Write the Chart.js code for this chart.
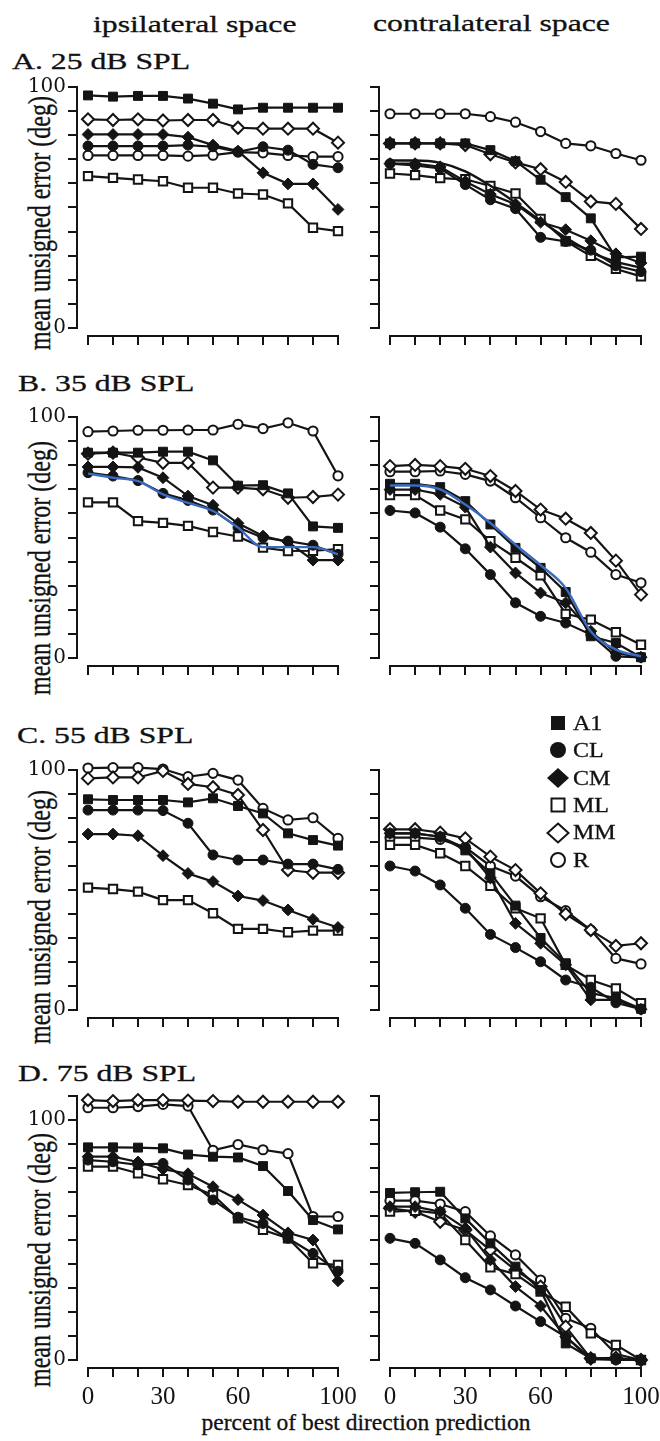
<!DOCTYPE html>
<html>
<head>
<meta charset="utf-8">
<script src="https://cdn.jsdelivr.net/npm/chart.js@4.4.1/dist/chart.umd.min.js"></script>
<style>
html,body{margin:0;padding:0;background:#fff;}
#page{position:relative;width:660px;height:1441px;overflow:hidden;background:#fff;}
#page canvas{position:absolute;left:0;}
.t{position:absolute;font-family:"Liberation Serif","Times New Roman",serif;color:#111;white-space:nowrap;line-height:1;transform-origin:0 0;-webkit-text-stroke:0.3px #111;}
.yt{position:absolute;font-family:"Liberation Serif","Times New Roman",serif;color:#111;white-space:nowrap;line-height:1;font-size:24px;-webkit-text-stroke:0.3px #111;transform:translate(-50%,-50%) rotate(-90deg) scaleY(1.3);}
.leg{position:absolute;}
</style>
</head>
<body>
<div id="page">
  <div class="t" style="left:92.5px;top:12.6px;font-size:23.5px;transform:scaleX(1.35)">ipsilateral space</div>
  <div class="t" style="left:372.5px;top:12.3px;font-size:23.5px;transform:scaleX(1.35)">contralateral space</div>
  <div class="t" style="left:11.5px;top:50.3px;font-size:23.5px;transform:scaleX(1.35)">A. 25 dB SPL</div>
  <div class="t" style="left:17.6px;top:372.2px;font-size:23.5px;transform:scaleX(1.35)">B. 35 dB SPL</div>
  <div class="t" style="left:17.2px;top:723.5px;font-size:23.5px;transform:scaleX(1.35)">C. 55 dB SPL</div>
  <div class="t" style="left:17.6px;top:1062.2px;font-size:23.5px;transform:scaleX(1.35)">D. 75 dB SPL</div>
  <div class="yt" style="left:39.5px;top:223px">mean unsigned error (deg)</div>
  <div class="yt" style="left:39.5px;top:568px">mean unsigned error (deg)</div>
  <div class="yt" style="left:39.5px;top:917px">mean unsigned error (deg)</div>
  <div class="yt" style="left:39.5px;top:1260px">mean unsigned error (deg)</div>
  <div class="t" style="left:366px;top:1411px;font-size:23.5px;transform:translateX(-50%)">percent of best direction prediction</div>
</div>
<script>
// ---------------- data ----------------
const percent = [0, 10, 20, 30, 40, 50, 60, 70, 80, 90, 100];
const xTickValues = [0, 10, 20, 30, 40, 50, 60, 70, 80, 90, 100];
const xTickLabels = [0, 30, 60, 100];
const yTickValues100 = [0, 10, 20, 30, 40, 50, 60, 70, 80, 90, 100];
const yTickValues110 = [0, 10, 20, 30, 40, 50, 60, 70, 80, 90, 100, 110];
const yTickLabels = [0, 100];
const seriesNames = ['A1', 'CL', 'CM', 'ML', 'MM', 'R'];

// A. 25 dB SPL
const ipsi25_A1 = [96.5, 96.0, 96.3, 96.3, 95.2, 93.1, 90.7, 91.4, 91.4, 91.4, 91.4];
const ipsi25_CL = [75.5, 75.5, 75.5, 75.5, 75.9, 75.2, 73.1, 75.2, 73.8, 67.9, 66.5];
const ipsi25_CM = [80.3, 80.3, 80.3, 80.3, 79.2, 75.9, 73.4, 64.4, 59.8, 59.8, 49.2];
const ipsi25_ML = [63.0, 62.3, 61.6, 60.9, 58.2, 58.2, 55.8, 55.4, 51.7, 41.6, 40.2];
const ipsi25_MM = [86.6, 86.3, 86.6, 86.1, 86.3, 86.3, 83.1, 82.7, 82.7, 82.7, 76.9];
const ipsi25_R  = [71.6, 71.6, 71.6, 71.6, 71.3, 71.7, 73.0, 72.7, 71.6, 71.1, 71.1];
const contra25_A1 = [76.6, 76.6, 76.6, 76.6, 73.8, 69.2, 61.5, 54.3, 45.5, 29.3, 29.6];
const contra25_CL = [68.2, 67.5, 66.2, 59.5, 53.2, 49.5, 37.6, 35.9, 32.3, 25.8, 23.4];
const contra25_CM = [68.2, 68.2, 66.9, 60.8, 55.5, 51.4, 43.9, 40.8, 36.2, 30.8, 27.0];
const contra25_ML = [64.1, 63.4, 62.2, 61.7, 58.9, 55.8, 45.3, 36.0, 29.9, 24.5, 21.4];
const contra25_MM = [76.6, 76.6, 76.6, 75.9, 72.1, 68.7, 65.9, 60.6, 52.5, 51.5, 41.1];
const contra25_R  = [88.9, 88.9, 88.9, 88.9, 87.7, 85.4, 81.5, 76.6, 75.6, 72.4, 69.6];
const contra25_fit = [69.5, 69.5, 68.5, 65.0, 59.0, 52.0, 44.5, 37.5, 31.5, 27.5, 25.0];

// B. 35 dB SPL
const ipsi35_A1 = [85.2, 85.2, 85.2, 85.6, 85.6, 82.0, 71.5, 71.7, 68.3, 54.6, 54.0];
const ipsi35_CL = [76.9, 75.5, 73.6, 68.3, 65.4, 61.4, 54.1, 49.9, 48.5, 46.8, 43.0];
const ipsi35_CM = [79.3, 79.3, 79.1, 74.8, 67.2, 63.4, 55.9, 50.6, 48.1, 40.6, 40.6];
const ipsi35_ML = [64.6, 64.6, 56.8, 56.1, 54.8, 52.3, 50.4, 45.8, 44.4, 44.5, 45.2];
const ipsi35_MM = [84.8, 85.2, 83.2, 81.0, 81.0, 70.7, 70.7, 70.0, 66.5, 66.8, 67.8];
const ipsi35_R  = [93.9, 94.2, 94.5, 94.5, 94.6, 94.6, 97.0, 95.2, 97.6, 94.2, 75.6];
const ipsi35_fit = [76.5, 74.8, 73.4, 67.9, 64.4, 61.0, 54.1, 46.0, 46.0, 46.0, 43.0];
const contra35_A1 = [72.3, 72.3, 70.9, 65.1, 55.4, 45.7, 37.4, 27.4, 9.0, 6.2, 0.3];
const contra35_CL = [61.2, 60.2, 54.3, 45.3, 34.6, 22.9, 17.3, 14.5, 9.7, 0.7, 0.3];
const contra35_CM = [69.9, 69.9, 67.9, 62.6, 46.0, 35.3, 27.0, 22.9, 11.1, 2.1, 0.3];
const contra35_ML = [67.6, 67.6, 61.2, 57.5, 48.5, 41.6, 34.3, 18.3, 15.9, 10.7, 5.5];
const contra35_MM = [79.6, 80.1, 79.6, 78.5, 75.5, 69.3, 61.6, 57.8, 51.9, 40.4, 26.3];
const contra35_R  = [77.3, 77.3, 77.6, 76.2, 73.4, 66.5, 58.2, 49.9, 43.9, 34.6, 31.2];
const contra35_fit = [71.6, 71.6, 70.0, 63.7, 56.0, 47.0, 38.5, 29.0, 11.0, 3.5, 0.7];

// C. 55 dB SPL
const ipsi55_A1 = [87.8, 87.5, 87.5, 87.5, 86.5, 88.2, 85.0, 81.9, 73.6, 70.8, 68.5];
const ipsi55_CL = [83.3, 83.3, 83.3, 83.1, 77.8, 64.6, 62.5, 62.5, 60.8, 60.8, 58.6];
const ipsi55_CM = [73.3, 73.3, 72.6, 64.3, 56.9, 53.5, 47.5, 45.6, 41.7, 37.8, 34.4];
const ipsi55_ML = [51.0, 50.4, 49.3, 45.8, 45.8, 40.3, 33.8, 33.8, 32.4, 33.1, 33.1];
const ipsi55_MM = [96.5, 96.9, 96.9, 99.6, 94.2, 92.8, 89.6, 75.0, 58.3, 57.2, 57.2];
const ipsi55_R  = [100.8, 101.0, 101.0, 100.4, 97.2, 98.6, 95.8, 84.0, 79.2, 80.1, 71.5];
const contra55_A1 = [73.6, 73.6, 72.2, 66.5, 57.0, 43.5, 30.0, 19.5, 7.0, 5.0, 0.5];
const contra55_CL = [60.0, 57.9, 52.1, 42.4, 31.5, 26.0, 20.1, 12.5, 9.5, 3.0, 0.3];
const contra55_CM = [73.6, 73.6, 72.2, 67.4, 55.0, 36.1, 27.8, 18.8, 4.2, 4.2, 0.3];
const contra55_ML = [68.8, 68.8, 65.3, 60.0, 51.7, 42.4, 38.2, 18.8, 12.5, 9.0, 2.8];
const contra55_MM = [75.3, 75.3, 73.9, 71.5, 63.9, 58.3, 48.6, 40.0, 33.3, 26.7, 27.8];
const contra55_R  = [71.8, 71.8, 71.1, 67.8, 60.0, 55.8, 47.2, 41.4, 33.3, 21.5, 19.2];

// D. 75 dB SPL
const ipsi75_A1 = [88.6, 88.6, 88.5, 88.2, 85.6, 84.7, 84.4, 80.8, 70.4, 58.3, 54.4];
const ipsi75_CL = [83.3, 82.6, 81.3, 81.9, 75.0, 66.7, 59.5, 56.9, 50.7, 44.4, 37.0];
const ipsi75_CM = [84.7, 84.7, 82.5, 79.5, 77.6, 72.2, 66.8, 60.4, 53.0, 50.0, 33.0];
const ipsi75_ML = [80.6, 80.6, 77.8, 75.3, 72.9, 68.8, 59.0, 54.2, 50.7, 40.3, 39.6];
const ipsi75_MM = [108.3, 107.9, 108.3, 108.3, 108.1, 107.9, 107.6, 107.6, 107.6, 107.6, 107.6];
const ipsi75_R  = [105.1, 105.1, 105.6, 106.5, 105.8, 87.4, 89.8, 87.6, 86.0, 59.8, 59.8];
const contra75_A1 = [69.6, 69.9, 70.1, 59.0, 48.6, 38.9, 29.2, 6.9, 0.7, 0.5, 0.0];
const contra75_CL = [50.7, 48.6, 41.7, 34.3, 29.2, 22.5, 16.0, 9.7, 0.7, 0.0, 0.0];
const contra75_CM = [63.9, 63.9, 61.8, 54.9, 41.7, 30.6, 22.5, 9.7, 0.3, 0.3, 0.0];
const contra75_ML = [61.8, 62.2, 61.1, 50.0, 38.6, 35.8, 28.5, 22.2, 11.1, 6.3, 0.0];
const contra75_MM = [63.2, 61.8, 57.6, 54.2, 45.8, 37.5, 30.6, 13.9, 0.7, 0.9, 0.0];
const contra75_R  = [66.4, 66.4, 65.0, 61.8, 51.7, 43.8, 33.3, 17.4, 13.2, 2.5, 0.0];

// ---------------- layout & style ----------------
const INK = '#141414';
const styles = {
  A1: {pointStyle: 'rect',    radius: 6.3, fill: INK,    bw: 1},
  CL: {pointStyle: 'circle',  radius: 5.0, fill: INK,    bw: 1},
  CM: {pointStyle: 'rectRot', radius: 5.9, fill: INK,    bw: 1},
  ML: {pointStyle: 'rect',    radius: 5.9, fill: '#fff', bw: 2},
  MM: {pointStyle: 'rectRot', radius: 6.0, fill: '#fff', bw: 2},
  R:  {pointStyle: 'circle',  radius: 4.6, fill: '#fff', bw: 2}
};
const rows = {
  A: {top: 86.5, zero: 327, bottom: 335, max: 100},
  B: {top: 417, zero: 658, bottom: 666, max: 100},
  C: {top: 770, zero: 1010, bottom: 1018, max: 100},
  D: {top: 1096, zero: 1360, bottom: 1368, max: 110}
};
const cols = {
  L: {axis: 77, x0: 88, x100: 338},
  R: {axis: 379, x0: 390, x100: 641}
};
const Y_BOX = 70;   // width reserved for y tick labels
const X_BOX = 45;   // height reserved for x tick labels

const axisLines = {
  id: 'axisLines',
  afterDraw(chart) {
    const {ctx, chartArea: a, scales: {x, y}} = chart;
    ctx.save();
    ctx.strokeStyle = INK;
    ctx.lineWidth = 2;
    ctx.beginPath();
    ctx.moveTo(a.left, y.getPixelForValue(0) + 1);
    ctx.lineTo(a.left, y.getPixelForValue(y.max) - 1);
    ctx.moveTo(x.getPixelForValue(0) - 1, a.bottom);
    ctx.lineTo(x.getPixelForValue(100) + 1, a.bottom);
    ctx.stroke();
    ctx.restore();
  }
};

function toPoints(arr) { return percent.map((p, i) => ({x: p, y: arr[i]})); }

function makePanel(rowKey, colKey, series, fit, fitColor, showY, showX) {
  const r = rows[rowKey], c = cols[colKey];
  const unit = (r.zero - r.top) / r.max;
  const yMin = -(r.bottom - r.zero) / unit;
  const xUnit = (c.x100 - c.x0) / 100;
  const xMin = -(c.x0 - c.axis) / xUnit;
  const padTop = 30, padBottom = 55;
  const H = Math.round(r.bottom - r.top + padTop + padBottom);
  const cv = document.createElement('canvas');
  cv.width = 660; cv.height = H;
  cv.style.width = '660px'; cv.style.height = H + 'px';
  cv.style.top = (r.top - padTop) + 'px';
  document.getElementById('page').appendChild(cv);

  const datasets = [];
  if (fit) {
    datasets.push({
      data: toPoints(fit), borderColor: fitColor, borderWidth: 2.4,
      pointRadius: 0, cubicInterpolationMode: 'monotone', clip: false, fill: false
    });
  }
  seriesNames.forEach((name, i) => {
    const s = styles[name];
    datasets.push({
      label: name, data: toPoints(series[i]),
      borderColor: INK, borderWidth: 2.2, tension: 0, fill: false, clip: false,
      pointStyle: s.pointStyle, pointRadius: s.radius,
      pointBackgroundColor: s.fill, backgroundColor: s.fill,
      pointBorderColor: INK, pointBorderWidth: s.bw
    });
  });
  const yTicks = r.max === 110 ? yTickValues110 : yTickValues100;
  new Chart(cv, {
    type: 'line',
    data: {datasets},
    options: {
      responsive: false, animation: false, devicePixelRatio: 1, events: [],
      layout: {padding: {left: c.axis - Y_BOX, right: 660 - c.x100, top: padTop, bottom: padBottom - X_BOX}},
      plugins: {legend: {display: false}, tooltip: {enabled: false}, title: {display: false}},
      scales: {
        x: {
          type: 'linear', min: xMin, max: 100,
          afterFit: s => { s.height = X_BOX; s.paddingLeft = 0; s.paddingRight = 0; s.paddingTop = 0; s.paddingBottom = 0; },
          afterBuildTicks: s => { s.ticks = xTickValues.map(v => ({value: v})); },
          border: {display: false},
          grid: {display: true, drawOnChartArea: false, drawTicks: true, tickLength: 9, color: INK, lineWidth: 2},
          ticks: {
            display: showX, autoSkip: false, maxRotation: 0, minRotation: 0, padding: 5, color: INK,
            font: {family: '"Liberation Serif", "Times New Roman", serif', size: 25},
            callback: v => xTickLabels.includes(v) ? String(v) : ''
          }
        },
        y: {
          type: 'linear', min: yMin, max: r.max,
          afterFit: s => { s.width = Y_BOX; s.paddingLeft = 0; s.paddingRight = 0; s.paddingTop = 0; s.paddingBottom = 0; },
          afterBuildTicks: s => { s.ticks = yTicks.map(v => ({value: v})); },
          border: {display: false},
          grid: {display: true, drawOnChartArea: false, drawTicks: true, tickLength: 9, color: INK, lineWidth: 2},
          ticks: {
            display: showY, autoSkip: false, padding: 2, color: INK,
            font: {family: '"DejaVu Serif", serif', size: 20},
            callback: v => yTickLabels.includes(v) ? String(v) : ''
          }
        }
      }
    },
    plugins: [axisLines]
  });
}

makePanel('A', 'L', [ipsi25_A1, ipsi25_CL, ipsi25_CM, ipsi25_ML, ipsi25_MM, ipsi25_R], null, null, true, false);
makePanel('A', 'R', [contra25_A1, contra25_CL, contra25_CM, contra25_ML, contra25_MM, contra25_R], contra25_fit, INK, false, false);
makePanel('B', 'L', [ipsi35_A1, ipsi35_CL, ipsi35_CM, ipsi35_ML, ipsi35_MM, ipsi35_R], ipsi35_fit, '#3a6bc0', true, false);
makePanel('B', 'R', [contra35_A1, contra35_CL, contra35_CM, contra35_ML, contra35_MM, contra35_R], contra35_fit, '#3a6bc0', false, false);
makePanel('C', 'L', [ipsi55_A1, ipsi55_CL, ipsi55_CM, ipsi55_ML, ipsi55_MM, ipsi55_R], null, null, true, false);
makePanel('C', 'R', [contra55_A1, contra55_CL, contra55_CM, contra55_ML, contra55_MM, contra55_R], null, null, false, false);
makePanel('D', 'L', [ipsi75_A1, ipsi75_CL, ipsi75_CM, ipsi75_ML, ipsi75_MM, ipsi75_R], null, null, true, true);
makePanel('D', 'R', [contra75_A1, contra75_CL, contra75_CM, contra75_ML, contra75_MM, contra75_R], null, null, false, true);

// ---------------- legend ----------------
const legendIcons = {
  A1: '<rect x="5" y="4" width="14" height="14" fill="' + INK + '"/>',
  CL: '<circle cx="12" cy="11" r="8" fill="' + INK + '"/>',
  CM: '<polygon points="12,1 23,11 12,21 1,11" fill="' + INK + '"/>',
  ML: '<rect x="5.5" y="4.5" width="13" height="13" fill="#fff" stroke="' + INK + '" stroke-width="2"/>',
  MM: '<polygon points="12,1.5 22.5,11 12,20.5 1.5,11" fill="#fff" stroke="' + INK + '" stroke-width="2"/>',
  R:  '<circle cx="12" cy="11" r="7" fill="#fff" stroke="' + INK + '" stroke-width="2"/>'
};
const page = document.getElementById('page');
seriesNames.forEach((name, i) => {
  const cy = 723 + i * 27.4;
  const icon = document.createElement('div');
  icon.className = 'leg';
  icon.style.left = (558 - 12) + 'px';
  icon.style.top = (cy - 11) + 'px';
  icon.innerHTML = '<svg width="24" height="22" viewBox="0 0 24 22">' + legendIcons[name] + '</svg>';
  page.appendChild(icon);
  const txt = document.createElement('div');
  txt.className = 't';
  txt.style.left = '573px';
  txt.style.top = (cy - 10.2) + 'px';
  txt.style.fontSize = '20px';
  txt.style.transform = 'scaleX(1.2)';
  txt.textContent = name;
  page.appendChild(txt);
});
</script>
</body>
</html>
